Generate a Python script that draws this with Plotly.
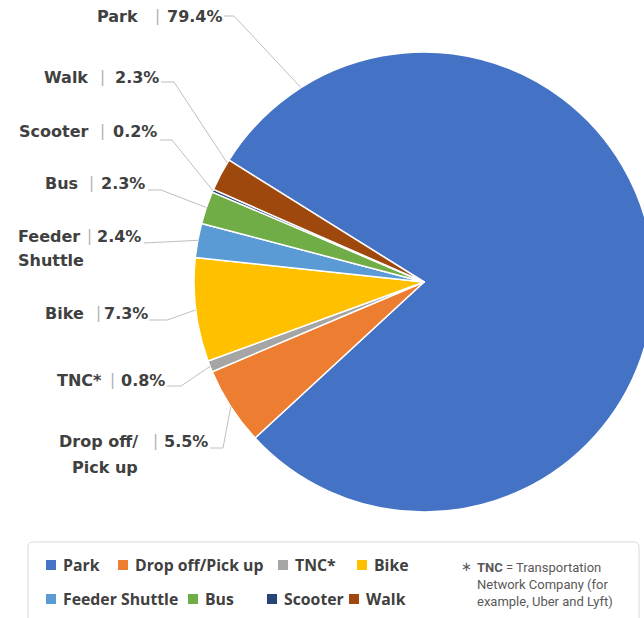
import math
import plotly.graph_objects as go

# ---------------- data ----------------
categories = ["Park", "Drop off/Pick up", "TNC*", "Bike", "Feeder Shuttle", "Bus", "Scooter", "Walk"]
shares = [79.4, 5.5, 0.8, 7.3, 2.4, 2.3, 0.2, 2.3]
share_labels = ["79.4%", "5.5%", "0.8%", "7.3%", "2.4%", "2.3%", "0.2%", "2.3%"]
callout_lines = [["Park"], ["Drop off/", "Pick up"], ["TNC*"], ["Bike"],
                 ["Feeder", "Shuttle"], ["Bus"], ["Scooter"], ["Walk"]]
footnote_lines = ["<b>TNC</b> = Transportation", "Network Company (for", "example, Uber and Lyft)"]

# ---------------- style ----------------
colors = ["#4472C4", "#ED7D31", "#A5A5A5", "#FFC000", "#5B9BD5", "#70AD47", "#264478", "#9E480E"]
W, H = 660, 618
CX, CY, R = 424, 282, 230
ROT = 302
FONT = "DejaVu Sans"
TXT = "#404040"
LINEC = "#BFBFBF"

# callout layout (pixels)
name_x = [140, 140, 104, 86, 16, 80, 90, 90]
name_anchor = ["right", "right", "right", "right", "left", "right", "right", "right"]
name_y = [[16], [441, 467], [380], [313], [236, 260], [183], [131], [77]]
sep_x = [157, 155, 112, 98, 89, 91, 102, 102]
val_start = [168, 165, 122, 106, 96, 100, 112, 115]
val_end = [221, 207, 164, 146, 141, 145, 157, 158]
val_y = [16, 441, 380, 313, 236, 183, 131, 77]
line_y = [16, 448, 386, 320, 243, 190, 140, 82]
elbow_dx = [10, 13, 14, 18, 0, 13, 12, 13]
attach = [0.09, 0.5, 0.5, 0.5, 0.5, 0.5, 0.5, 0.9]

# legend layout (pixels)
leg_text_x = [61, 133, 293, 372, 61, 203, 282, 364]
leg_y = [565, 565, 565, 565, 599, 599, 599, 599]


def px(x):
    return x / W


def py(y):
    return 1 - y / H


fig = go.Figure()
fig.add_trace(go.Pie(
    labels=categories, values=shares,
    marker=dict(colors=colors, line=dict(color="white", width=1.5)),
    sort=False, direction="clockwise", rotation=ROT,
    textinfo="none", hoverinfo="label+percent", showlegend=False,
    domain=dict(x=[px(CX - R), px(CX + R)], y=[py(CY + R), py(CY - R)]),
))

annotations = []
shapes = []

total = sum(shares)
cum = 0.0
for i, v in enumerate(shares):
    a0 = ROT + cum / total * 360
    a1 = ROT + (cum + v) / total * 360
    cum += v
    ang = math.radians(a0 + attach[i] * (a1 - a0))
    ex = CX + R * math.sin(ang)
    ey = CY - R * math.cos(ang)
    sx = val_end[i] + 3
    kx = sx + elbow_dx[i]
    path = f"M {px(sx)},{py(line_y[i])} L {px(kx)},{py(line_y[i])} L {px(ex)},{py(ey)}"
    shapes.append(dict(type="path", xref="paper", yref="paper", path=path,
                       line=dict(color=LINEC, width=1)))
    # name
    for line, yy in zip(callout_lines[i], name_y[i]):
        annotations.append(dict(text=f"<b>{line}</b>", x=px(name_x[i]), y=py(yy),
                                xanchor=name_anchor[i], yanchor="middle",
                                font=dict(family=FONT, size=16, color=TXT)))
    # separator
    annotations.append(dict(text="|", x=px(sep_x[i]), y=py(val_y[i]),
                            xanchor="center", yanchor="middle",
                            font=dict(family=FONT, size=15, color="#B0B0B0")))
    # value
    annotations.append(dict(text=f"<b>{share_labels[i]}</b>",
                            x=px((val_start[i] + val_end[i]) / 2), y=py(val_y[i]),
                            xanchor="center", yanchor="middle",
                            font=dict(family=FONT, size=16, color=TXT)))

# legend box
x0, x1, y0, y1, rr = 28, 639, 542, 640, 5
box = (f"M {px(x0 + rr)},{py(y0)} L {px(x1 - rr)},{py(y0)} "
       f"Q {px(x1)},{py(y0)} {px(x1)},{py(y0 + rr)} L {px(x1)},{py(y1)} "
       f"L {px(x0)},{py(y1)} L {px(x0)},{py(y0 + rr)} Q {px(x0)},{py(y0)} {px(x0 + rr)},{py(y0)} Z")
shapes.append(dict(type="path", xref="paper", yref="paper", path=box,
                   line=dict(color="#D9D9D9", width=1), fillcolor="rgba(0,0,0,0)", layer="below"))

for i, name in enumerate(categories):
    tx = leg_text_x[i]
    ty = leg_y[i]
    shapes.append(dict(type="rect", xref="paper", yref="paper",
                       x0=px(tx - 15), x1=px(tx - 5), y0=py(ty + 5), y1=py(ty - 5),
                       fillcolor=colors[i], line=dict(width=0)))
    annotations.append(dict(text=name, x=px(tx), y=py(ty), xanchor="left", yanchor="middle",
                            font=dict(family="Open Sans", size=15.8, color=TXT, weight=700)))

# footnote
annotations.append(dict(text="∗", x=px(466), y=py(566), xanchor="center", yanchor="middle",
                        font=dict(family=FONT, size=13, color="#595959")))
annotations.append(dict(text="<br>".join(footnote_lines), x=px(475), y=py(584),
                        xanchor="left", yanchor="middle", align="left",
                        font=dict(family="Roboto", size=13, color="#595959")))

for a in annotations:
    a.update(xref="paper", yref="paper", showarrow=False)

fig.update_layout(
    width=W, height=H,
    margin=dict(l=0, r=0, t=0, b=0),
    paper_bgcolor="white", plot_bgcolor="white",
    showlegend=False,
    annotations=annotations, shapes=shapes,
)

fig.write_html("out.html", config={"displayModeBar": False},
               post_script="document.body.style.margin='0';document.body.style.overflow='hidden';")
